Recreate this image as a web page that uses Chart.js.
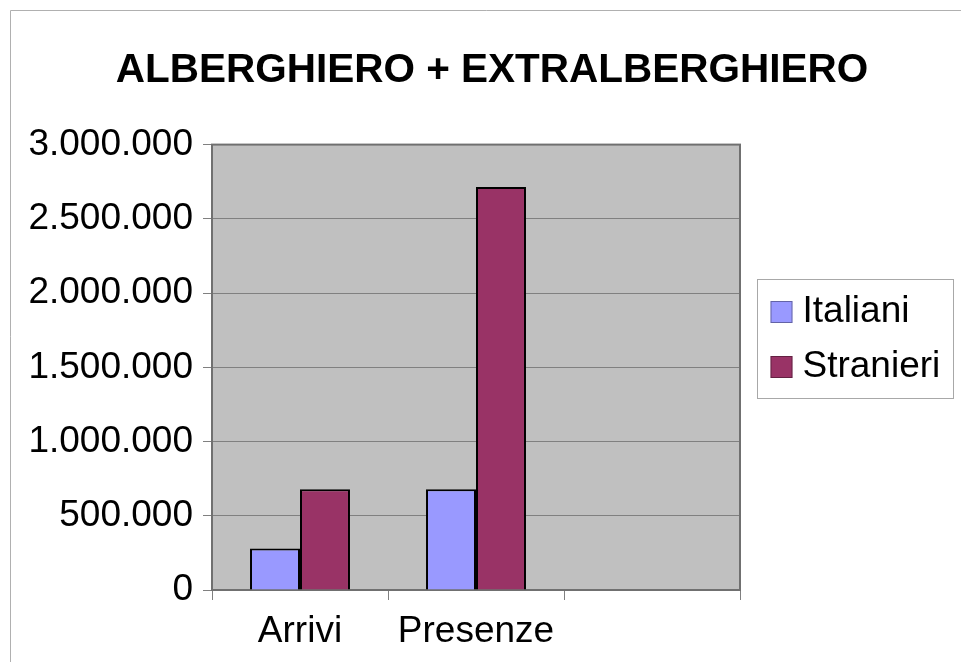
<!DOCTYPE html>
<html>
<head>
<meta charset="utf-8">
<script src="https://cdn.jsdelivr.net/npm/chart.js@4/dist/chart.umd.min.js"></script>
<style>
  html, body { margin: 0; padding: 0; background: #ffffff; }
  #wrap { width: 961px; height: 662px; position: relative; }
</style>
</head>
<body>
<div id="wrap"><canvas id="c" width="961" height="662"></canvas></div>
<script>
const titleText = 'ALBERGHIERO + EXTRALBERGHIERO';
const categories = ['Arrivi', 'Presenze', ''];
const seriesNames = ['Italiani', 'Stranieri'];
const italiani = [279000, 678000, null];
const stranieri = [678000, 2715000, null];
const seriesColors = ['#9999ff', '#993366'];
const yTickValues = [0, 500000, 1000000, 1500000, 2000000, 2500000, 3000000];

function fmtIt(v) {
  return String(Math.round(v)).replace(/\B(?=(\d{3})+(?!\d))/g, '.');
}

const FONT = 'Liberation Sans, Arial, sans-serif';

const plotFrame = {
  id: 'plotFrame',
  beforeDraw(chart) {
    const { ctx, chartArea: a } = chart;
    ctx.save();
    ctx.fillStyle = '#ffffff';
    ctx.fillRect(0, 0, chart.width, chart.height);
    ctx.strokeStyle = '#b0b0b0';
    ctx.lineWidth = 1;
    ctx.beginPath();
    ctx.moveTo(10.5, chart.height + 2);
    ctx.lineTo(10.5, 10.5);
    ctx.lineTo(chart.width + 2, 10.5);
    ctx.stroke();
    ctx.fillStyle = '#c0c0c0';
    ctx.fillRect(a.left, a.top, a.right - a.left, a.bottom - a.top);
    ctx.restore();
  },
  beforeDatasetsDraw(chart) {
    const { ctx, chartArea: a } = chart;
    ctx.save();
    ctx.strokeStyle = '#707070';
    ctx.lineWidth = 2;
    ctx.strokeRect(a.left, a.top, a.right - a.left, a.bottom - a.top);
    ctx.restore();
  }
};

const boxedLegend = {
  id: 'boxedLegend',
  beforeInit(chart) {
    const box = {
      position: 'right', weight: 0, fullSize: false, options: {},
      width: 0, height: 0,
      update(maxW, maxH) { this.width = 221; this.height = maxH; },
      isHorizontal() { return false; },
      draw() {
        const ctx = chart.ctx;
        const x0 = chart.chartArea.right + 17.5;
        const y0 = 279.5;
        ctx.save();
        ctx.strokeStyle = '#a8a8a8';
        ctx.lineWidth = 1;
        ctx.strokeRect(x0, y0, 196, 119);
        ctx.font = '37px ' + FONT;
        ctx.textBaseline = 'middle';
        ctx.textAlign = 'left';
        chart.data.datasets.forEach((ds, i) => {
          const cy = 312 + i * 55;
          ctx.fillStyle = ds.backgroundColor;
          ctx.fillRect(x0 + 13, cy - 11, 22, 22);
          ctx.strokeStyle = 'rgba(0,0,0,0.35)';
          ctx.strokeRect(x0 + 13.5, cy - 10.5, 21, 21);
          ctx.fillStyle = '#000000';
          ctx.fillText(ds.label, x0 + 45, cy);
        });
        ctx.restore();
      }
    };
    Chart.layouts.addBox(chart, box);
  }
};

new Chart(document.getElementById('c'), {
  type: 'bar',
  data: {
    labels: categories,
    datasets: [
      { label: seriesNames[0], data: italiani, backgroundColor: seriesColors[0], borderColor: '#000000', borderWidth: 2 },
      { label: seriesNames[1], data: stranieri, backgroundColor: seriesColors[1], borderColor: '#000000', borderWidth: 2 }
    ]
  },
  options: {
    responsive: false,
    animation: false,
    devicePixelRatio: 1,
    layout: { padding: { left: 23, right: 0, top: 0, bottom: 0 } },
    datasets: { bar: { categoryPercentage: 0.568, barPercentage: 1.0 } },
    plugins: {
      legend: { display: false },
      tooltip: { enabled: false },
      title: {
        display: true,
        text: titleText,
        color: '#000000',
        font: { family: FONT, size: 40.5, weight: 'bold', lineHeight: 1.2 },
        padding: { top: 47, bottom: 49 }
      }
    },
    scales: {
      x: {
        grid: { display: true, drawOnChartArea: false, offset: true, tickLength: 10, color: '#808080', lineWidth: 1 },
        border: { display: true, color: '#707070', width: 2 },
        ticks: { color: '#000000', padding: 10, font: { family: FONT, size: 37 }, maxRotation: 0, autoSkip: false },
        afterFit(scale) { scale.height = 72; }
      },
      y: {
        min: 0,
        max: 3000000,
        afterBuildTicks(scale) { scale.ticks = yTickValues.map(v => ({ value: v })); },
        grid: { color: '#808080', lineWidth: 1, tickLength: 9, drawTicks: true },
        border: { display: true, color: '#707070', width: 2 },
        ticks: { color: '#000000', padding: 10, font: { family: FONT, size: 37 }, callback: v => fmtIt(v) },
        afterFit(scale) { scale.width = 189; }
      }
    }
  },
  plugins: [plotFrame, boxedLegend]
});
</script>
</body>
</html>
